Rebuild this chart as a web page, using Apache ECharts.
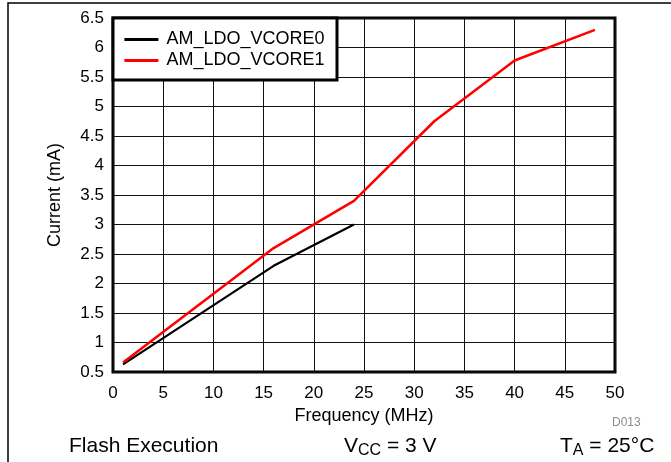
<!DOCTYPE html>
<html>
<head>
<meta charset="utf-8">
<script src="https://cdn.jsdelivr.net/npm/echarts@6/dist/echarts.min.js"></script>
<style>
  html, body { margin: 0; padding: 0; background: #fff; }
  #chart { width: 671px; height: 462px; }
</style>
</head>
<body>
<div id="chart"></div>
<script>
// Supply current vs. CPU frequency for the two core LDO settings
var freqVcore0 = [1, 16, 24];
var currentVcore0 = [0.63, 2.3, 3.0];
var freqVcore1 = [1, 16, 24, 32, 40, 48];
var currentVcore1 = [0.66, 2.6, 3.4, 4.75, 5.78, 6.3];
var seriesNames = ['AM_LDO_VCORE0', 'AM_LDO_VCORE1'];

function pairs(xs, ys) {
  return xs.map(function (x, i) { return [x, ys[i]]; });
}

var FONT = 'Liberation Sans, Arial, sans-serif';
var chart = echarts.init(document.getElementById('chart'), null, { renderer: 'canvas' });

chart.setOption({
  animation: false,
  backgroundColor: '#fff',
  grid: {
    left: 113, top: 18, width: 502, height: 354,
    show: true, borderColor: '#000', borderWidth: 3, backgroundColor: 'transparent'
  },
  xAxis: {
    type: 'value', min: 0, max: 50, interval: 5,
    name: 'Frequency (MHz)', nameLocation: 'middle', nameGap: 31,
    nameTextStyle: { fontFamily: FONT, fontSize: 18, color: '#000' },
    axisLine: { show: false }, axisTick: { show: false },
    axisLabel: { margin: 13, fontFamily: FONT, fontSize: 17, color: '#000' },
    splitLine: { show: true, lineStyle: { color: '#111', width: 1 } }
  },
  yAxis: {
    type: 'value', min: 0.5, max: 6.5, interval: 0.5,
    name: 'Current (mA)', nameLocation: 'middle', nameGap: 49,
    nameTextStyle: { fontFamily: FONT, fontSize: 18, color: '#000' },
    axisLine: { show: false }, axisTick: { show: false },
    axisLabel: { margin: 9, fontFamily: FONT, fontSize: 17, color: '#000' },
    splitLine: { show: true, lineStyle: { color: '#111', width: 1 } }
  },
  legend: {
    orient: 'vertical', left: 123, top: 29, padding: 0, itemGap: 0,
    itemWidth: 34, itemHeight: 14,
    data: seriesNames,
    itemStyle: { opacity: 0 },
    lineStyle: { width: 2.8 },
    textStyle: { fontFamily: FONT, fontSize: 18, color: '#000', lineHeight: 21, padding: [0, 0, 0, 3] },
    z: 10
  },
  graphic: [
    // legend frame
    { type: 'rect', z: 5, shape: { x: 113, y: 18, width: 224, height: 62 },
      style: { fill: '#fff', stroke: '#000', lineWidth: 3 } },
    // page frame
    { type: 'polyline', z: 1, shape: { points: [[8, 462], [8, 3], [671, 3]] },
      style: { fill: null, stroke: '#000', lineWidth: 1.5 } },
    { type: 'text', left: 612, top: 417,
      style: { text: 'D013', fontFamily: FONT, fontSize: 12, fill: '#8c8c8c' } },
    { type: 'text', left: 69, top: 436,
      style: { text: 'Flash Execution', fontFamily: FONT, fontSize: 21, fill: '#000' } },
    { type: 'text', left: 344, top: 436,
      style: {
        text: '{m|V}{s|CC}{m| = 3 V}', fontFamily: FONT, fill: '#000',
        rich: {
          m: { fontFamily: FONT, fontSize: 21, fill: '#000' },
          s: { fontFamily: FONT, fontSize: 16, fill: '#000', padding: [8, 0, 0, 0] }
        }
      } },
    { type: 'text', left: 560, top: 436,
      style: {
        text: '{m|T}{s|A}{m| = 25°C}', fontFamily: FONT, fill: '#000',
        rich: {
          m: { fontFamily: FONT, fontSize: 21, fill: '#000' },
          s: { fontFamily: FONT, fontSize: 16, fill: '#000', padding: [8, 0, 0, 0] }
        }
      } }
  ],
  series: [
    { name: seriesNames[0], type: 'line', data: pairs(freqVcore0, currentVcore0),
      symbol: 'none', color: '#000', lineStyle: { color: '#000', width: 2.2 }, z: 3 },
    { name: seriesNames[1], type: 'line', data: pairs(freqVcore1, currentVcore1),
      symbol: 'none', color: '#ff0000', lineStyle: { color: '#ff0000', width: 2.5 }, z: 3 }
  ]
});
</script>
</body>
</html>
